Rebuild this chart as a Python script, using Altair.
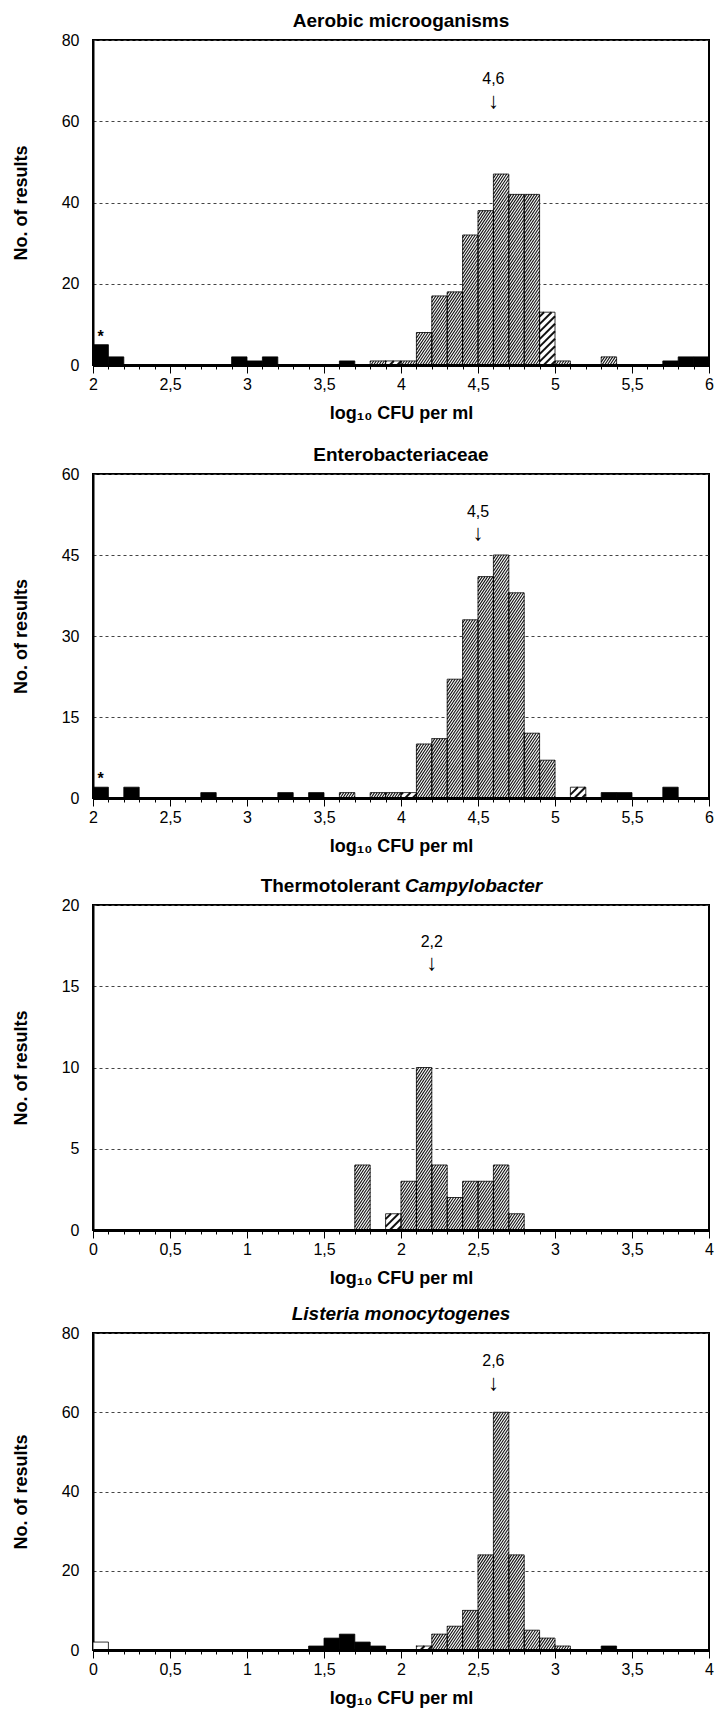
import altair as alt
import pandas as pd

FONT = "Liberation Sans"
BIN = 0.1

# ---------------- data ----------------
aer_start = [2.0, 2.1, 2.9, 3.0, 3.1, 3.6, 3.8, 3.9, 4.0, 4.1, 4.2, 4.3, 4.4, 4.5, 4.6, 4.7, 4.8, 4.9, 5.0, 5.3, 5.7, 5.8, 5.9]
aer_count = [5, 2, 2, 1, 2, 1, 1, 1, 1, 8, 17, 18, 32, 38, 47, 42, 42, 13, 1, 2, 1, 2, 2]
aer_type = ["B", "B", "B", "B", "B", "B", "H", "A", "H", "H", "H", "H", "H", "H", "H", "H", "H", "A", "H", "H", "B", "B", "B"]

ent_start = [2.0, 2.2, 2.7, 3.2, 3.4, 3.6, 3.8, 3.9, 4.0, 4.1, 4.2, 4.3, 4.4, 4.5, 4.6, 4.7, 4.8, 4.9, 5.1, 5.3, 5.4, 5.7]
ent_count = [2, 2, 1, 1, 1, 1, 1, 1, 1, 10, 11, 22, 33, 41, 45, 38, 12, 7, 2, 1, 1, 2]
ent_type = ["B", "B", "B", "B", "B", "H", "H", "H", "A", "H", "H", "H", "H", "H", "H", "H", "H", "H", "A", "B", "B", "B"]

cam_start = [1.7, 1.9, 2.0, 2.1, 2.2, 2.3, 2.4, 2.5, 2.6, 2.7]
cam_count = [4, 1, 3, 10, 4, 2, 3, 3, 4, 1]
cam_type = ["H", "A", "H", "H", "H", "H", "H", "H", "H", "H"]

lis_start = [0.0, 1.4, 1.5, 1.6, 1.7, 1.8, 2.1, 2.2, 2.3, 2.4, 2.5, 2.6, 2.7, 2.8, 2.9, 3.0, 3.3]
lis_count = [2, 1, 3, 4, 2, 1, 1, 4, 6, 10, 24, 60, 24, 5, 3, 1, 1]
lis_type = ["W", "B", "B", "B", "B", "B", "A", "H", "H", "H", "H", "H", "H", "H", "H", "H", "B"]

titles = [
    [("Aerobic microoganisms", "normal")],
    [("Enterobacteriaceae", "normal")],
    [("Thermotolerant", "normal"), ("Campylobacter", "italic")],
    [("Listeria monocytogenes", "italic")],
]
x_ranges = [(2, 6), (2, 6), (0, 4), (0, 4)]
y_max = [80, 60, 20, 80]
y_step = [20, 15, 5, 20]
means = [4.6, 4.5, 2.2, 2.6]
has_star = [True, True, False, False]

TYPES = ["B", "H", "A", "W"]
FILLS = ["#000000", "#ffffff", "#ffffff", "#ffffff"]

W = 616
HEIGHTS = [325, 324, 325, 317]
ANN_DY = [(39, 61), (38, 59), (37, 58), (28, 50)]

# hatch styles: (vertical step in px, slope, line width)
HATCH = {"H": (4.0, 1.5, 1.1), "A": (7.5, 1.0, 2.0)}


def hatch_lines(df, px_x, px_y):
    """Diagonal hatch segments, clipped to each hatched bar, in data units."""
    rows = []
    for _, r in df.iterrows():
        if r["type"] not in HATCH:
            continue
        step, k, lw = HATCH[r["type"]]
        wpx = BIN * px_x
        hpx = r["count"] * px_y
        t = -k * wpx + step / 2
        while t < hpx:
            u0 = max(0.0, -t / k)
            u1 = min(wpx, (hpx - t) / k)
            if u1 > u0:
                rows.append({
                    "hx": r["start"] + u0 / px_x, "hx2": r["start"] + u1 / px_x,
                    "hy": (k * u0 + t) / px_y, "hy2": (k * u1 + t) / px_y,
                    "lw": lw,
                })
            t += step
    return pd.DataFrame(rows)


def panel(i, starts, counts, types):
    xmin, xmax = x_ranges[i]
    ymax = y_max[i]
    H = HEIGHTS[i]
    df = pd.DataFrame({"start": starts, "count": counts, "type": types})
    df["end"] = df["start"] + BIN
    df["mid"] = df["start"] + BIN / 2
    df["base"] = 0

    xs = alt.Scale(domain=[xmin, xmax], nice=False, zero=False)
    ys = alt.Scale(domain=[0, ymax], nice=False)
    majors = [xmin + 0.5 * k for k in range(int((xmax - xmin) / 0.5) + 1)]
    minors = [round(xmin + BIN * k, 1) for k in range(int(round((xmax - xmin) / BIN)) + 1)]
    yvals = [y_step[i] * k for k in range(5)]

    xaxis = alt.Axis(values=majors, format="~g", labelExpr="replace(datum.label, '.', ',')",
                     title="log₁₀ CFU per ml", orient="bottom", tickSize=8, tickWidth=1,
                     tickColor="black", domainWidth=3, domainColor="black", labelFontSize=16,
                     labelPadding=3, titleFontSize=18, titleFontWeight="bold", titlePadding=12,
                     grid=False, zindex=1, labelFlush=False)
    yaxis = alt.Axis(values=yvals, format="d", title="No. of results", ticks=False, labelPadding=14,
                     labelFontSize=16, grid=True, gridDash=[3, 3], gridColor="#444444", gridWidth=1,
                     domainWidth=2, domainColor="black", titleFontSize=18, titleFontWeight="bold",
                     titlePadding=31, orient="left")

    bars = alt.Chart(df).mark_rect(strokeWidth=0).encode(
        x=alt.X("start:Q", scale=xs, axis=xaxis),
        x2="end:Q",
        y=alt.Y("count:Q", scale=ys, axis=yaxis),
        y2="base:Q",
        color=alt.Color("type:N", scale=alt.Scale(domain=TYPES, range=FILLS), legend=None),
    )
    hdf = hatch_lines(df, W / (xmax - xmin), H / ymax)
    hatch = alt.Chart(hdf).mark_rule(color="#111111").encode(
        x=alt.X("hx:Q", scale=xs, axis=None), x2="hx2:Q",
        y=alt.Y("hy:Q", scale=ys, axis=yaxis), y2="hy2:Q",
        strokeWidth=alt.StrokeWidth("lw:Q", scale=None, legend=None),
    )
    outline = alt.Chart(df).mark_rect(fillOpacity=0, stroke="black", strokeWidth=0.8).encode(
        x=alt.X("start:Q", scale=xs, axis=None), x2="end:Q",
        y=alt.Y("count:Q", scale=ys, axis=yaxis), y2="base:Q",
    )
    minor = alt.Chart(pd.DataFrame({"m": minors, "z": [0] * len(minors)})).mark_tick(opacity=0).encode(
        x=alt.X("m:Q", scale=xs, axis=alt.Axis(values=minors, labels=False, tickSize=4, tickWidth=1,
                                               tickColor="black", domain=False, grid=False,
                                               orient="bottom", title=None, zindex=1)),
        y=alt.Y("z:Q", scale=ys, axis=yaxis),
    )
    ann_df = pd.DataFrame({"x": [means[i]], "y": [ymax],
                           "t": [str(means[i]).replace(".", ",")], "a": ["↓"]})
    ann_t = alt.Chart(ann_df).mark_text(fontSize=16, dy=ANN_DY[i][0], baseline="middle", color="black").encode(
        x=alt.X("x:Q", scale=xs, axis=None), y=alt.Y("y:Q", scale=ys, axis=yaxis), text="t:N")
    ann_a = alt.Chart(ann_df).mark_text(fontSize=22, dy=ANN_DY[i][1], baseline="middle", color="black").encode(
        x=alt.X("x:Q", scale=xs, axis=None), y=alt.Y("y:Q", scale=ys, axis=yaxis), text="a:N")
    layers = [bars, hatch, outline, minor, ann_t, ann_a]

    if has_star[i]:
        sdf = df.iloc[[0]].assign(s="*")
        star = alt.Chart(sdf).mark_text(fontSize=16, fontWeight="bold", dy=-8, baseline="middle", color="black").encode(
            x=alt.X("mid:Q", scale=xs, axis=None), y=alt.Y("count:Q", scale=ys, axis=yaxis), text="s:N")
        layers.append(star)

    parts = titles[i]
    if len(parts) == 1:
        t, st = parts[0]
        layers.append(alt.Chart(pd.DataFrame({"t": [t]})).mark_text(
            fontSize=19, fontWeight="bold", fontStyle=st, align="center", baseline="alphabetic",
            color="black").encode(x=alt.value(W / 2), y=alt.value(-13), text="t:N"))
    else:
        (t1, s1), (t2, s2) = parts
        layers.append(alt.Chart(pd.DataFrame({"t": [t1]})).mark_text(
            fontSize=19, fontWeight="bold", fontStyle=s1, align="right", baseline="alphabetic",
            color="black").encode(x=alt.value(W / 2 - 1), y=alt.value(-13), text="t:N"))
        layers.append(alt.Chart(pd.DataFrame({"t": [t2]})).mark_text(
            fontSize=19, fontWeight="bold", fontStyle=s2, align="left", baseline="alphabetic",
            color="black").encode(x=alt.value(W / 2 + 4), y=alt.value(-13), text="t:N"))

    return alt.layer(*layers).resolve_axis(x="independent").properties(width=W, height=H)


p = [
    panel(0, aer_start, aer_count, aer_type),
    panel(1, ent_start, ent_count, ent_type),
    panel(2, cam_start, cam_count, cam_type),
    panel(3, lis_start, lis_count, lis_type),
]

top2 = alt.vconcat(p[0], p[1], spacing=22)
top3 = alt.vconcat(top2, p[2], spacing=20)
chart = (
    alt.vconcat(top3, p[3], spacing=16)
    .properties(padding={"left": 3, "top": 3, "right": 0, "bottom": 0}, background="white")
    .configure_view(stroke="black", strokeWidth=2)
    .configure_axis(labelFont=FONT, titleFont=FONT, labelColor="black", titleColor="black")
    .configure_text(font=FONT, color="black")
)

chart.save("out.html", embed_options={"renderer": "svg", "actions": False})
